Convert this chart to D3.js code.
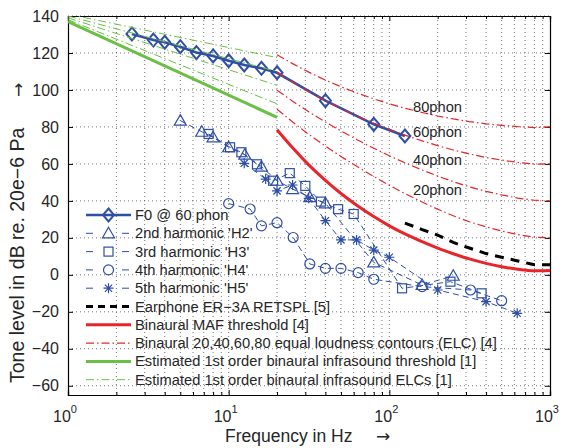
<!DOCTYPE html>
<html>
<head>
<meta charset="utf-8">
<script src="https://cdn.jsdelivr.net/npm/d3@7"></script>
<style>
  body { margin: 0; background: #fff; }
  svg { display: block; font-family: "Liberation Sans", Arial, sans-serif; }
</style>
</head>
<body>
<svg id="chart" width="563" height="448"></svg>
<script>
// fundamental frequencies (Hz) and the F0 level at 60 phon
var f0Freq = [2.5, 3.4, 4, 5, 6.3, 8, 10, 12.5, 16, 20, 40, 80, 125];
var f0Level = [130.3, 127.0, 125.8, 123.4, 120.2, 118.4, 115.8, 113.5, 111.7, 109.3, 94.2, 81.4, 75.1];

// harmonic levels (dB), one per fundamental
var h2Level = [83.4, 77.4, 74.4, 69.0, 65.0, 58.5, 50.9, 46.4, 42.0, 38.7, 6.7, -5.5, -0.5];
var h3Level = [76.2, 69.0, 66.3, 59.8, 50.9, 55.0, 48.1, 39.6, 35.5, 32.9, -7.3, -3.7, -10.0];
var h4Level = [38.5, 35.6, 26.5, 28.2, 20.2, 5.9, 3.5, 3.5, 1.2, -2.4, -6.4, -8.2, -14.0];
var h5Level = [60.3, 51.8, 45.4, 48.6, 41.4, 29.3, 18.9, 18.9, 13.4, 9.5, -8.2, -14.5, -20.8];

// earphone RETSPL
var earFreq = [125, 160, 200, 250, 315, 400, 500, 630, 750, 800, 1000];
var earLevel = [28.0, 24.5, 21.5, 17.5, 14.5, 11.5, 9.5, 7.5, 6.0, 5.5, 5.5];

// binaural MAF threshold and equal loudness contours
var isoFreq = [20, 25, 31.5, 40, 50, 63, 80, 100, 125, 160, 200, 250, 315, 400, 500, 630, 800, 1000];
var mafLevel = [78.5, 68.7, 59.5, 51.1, 44.0, 37.5, 31.5, 26.5, 22.1, 17.9, 14.4, 11.4, 8.6, 6.2, 4.4, 3.0, 2.2, 2.4];
var elc20 = [89.58, 82.65, 75.98, 69.62, 64.02, 58.55, 53.19, 48.38, 43.94, 39.37, 35.51, 31.93, 28.70, 25.93, 23.70, 21.75, 20.40, 20.00];
var elc40 = [99.85, 93.94, 88.17, 82.63, 77.78, 73.08, 68.48, 64.37, 60.59, 56.70, 53.41, 50.40, 47.58, 45.17, 43.24, 41.53, 40.34, 40.01];
var elc60 = [109.51, 104.23, 99.08, 94.18, 89.96, 85.94, 82.05, 78.65, 75.56, 72.47, 69.86, 67.53, 65.39, 63.45, 62.05, 60.81, 59.89, 60.01];
var elc80 = [118.99, 114.23, 109.65, 105.34, 101.72, 98.36, 95.17, 92.48, 90.09, 87.82, 85.92, 84.31, 82.89, 81.68, 80.86, 80.17, 79.67, 80.01];
var phonLabels = ["80phon", "60phon", "40phon", "20phon"];
var phonLabelLevel = [91, 77.5, 62, 46];

// estimated infrasound threshold and ELCs (1 Hz .. 20 Hz)
var infraFreq = [1, 20];
var infraThreshold = [137, 85.2];
var infraElc = [[141, 117.5], [140, 110], [139, 102.5], [138, 92.5]];

var yTicks = [-60, -40, -20, 0, 20, 40, 60, 80, 100, 120, 140];
var xDecades = [1, 10, 100, 1000];

var legendLabels = ["F0 @ 60 phon", "2nd harmonic 'H2'", "3rd harmonic 'H3'", "4th harmonic 'H4'",
  "5th harmonic 'H5'", "Earphone ER\u22123A RETSPL [5]", "Binaural MAF threshold [4]",
  "Binaural 20,40,60,80 equal loudness contours (ELC) [4]",
  "Estimated 1st order binaural infrasound threshold [1]",
  "Estimated 1st order binaural infrasound ELCs [1]"];

var blue = "#2f4ea6", red = "#e8252b", green = "#6abf45";

var svg = d3.select("#chart");
var padL = 68, padR = 550, padT = 16, padB = 395;

var x = d3.scaleLog().domain([1, 1000]).range([padL, padR]);
var y = d3.scaleLinear().domain([-65, 140]).range([padB, padT]);

svg.append("clipPath").attr("id", "clip")
  .append("rect").attr("x", padL).attr("y", padT).attr("width", padR - padL).attr("height", padB - padT);

// minor x positions
var xMinor = [];
[1, 10, 100].forEach(function(d) {
  for (var k = 2; k <= 9; k++) xMinor.push(d * k);
});

// grid
var grid = svg.append("g").attr("stroke", "#555").attr("stroke-width", 0.8).attr("stroke-dasharray", "1,3");
grid.selectAll("line.gx").data(xMinor.concat([10, 100])).enter().append("line")
  .attr("x1", function(d) { return x(d); }).attr("x2", function(d) { return x(d); })
  .attr("y1", padT).attr("y2", padB);
grid.selectAll("line.gy").data(yTicks).enter().append("line")
  .attr("y1", function(d) { return y(d); }).attr("y2", function(d) { return y(d); })
  .attr("x1", padL).attr("x2", padR);

// axes with inward ticks
svg.append("g").attr("transform", "translate(" + padL + ",0)")
  .call(d3.axisLeft(y).tickValues(yTicks).tickSize(-5).tickPadding(9)
    .tickFormat(function(d) { return d < 0 ? "\u2212" + Math.abs(d) : d; }))
  .call(function(g) {
    g.selectAll("text").attr("font-size", 16).attr("fill", "#262626");
  });
svg.append("g").attr("transform", "translate(" + padR + ",0)")
  .call(d3.axisRight(y).tickValues(yTicks).tickSize(-5).tickFormat(""));
svg.append("g").attr("transform", "translate(0," + padB + ")")
  .call(d3.axisBottom(x).tickValues(xDecades).tickSize(-5).tickFormat(""));
svg.append("g").attr("transform", "translate(0," + padB + ")")
  .call(d3.axisBottom(x).tickValues(xMinor).tickSize(-3).tickFormat(""));
svg.append("g").attr("transform", "translate(0," + padT + ")")
  .call(d3.axisTop(x).tickValues(xDecades).tickSize(-5).tickFormat(""));
svg.append("g").attr("transform", "translate(0," + padT + ")")
  .call(d3.axisTop(x).tickValues(xMinor).tickSize(-3).tickFormat(""));
svg.selectAll(".domain").attr("stroke", "#000").attr("stroke-width", 1.2);
svg.selectAll(".tick line").attr("stroke", "#000");
svg.selectAll("g[font-family]").attr("font-family", null);

// x tick labels 10^k
var xl = svg.append("g").attr("font-size", 16).attr("fill", "#262626");
xDecades.forEach(function(d, i) {
  var t = xl.append("text").attr("x", x(d) - 3).attr("y", 422).attr("text-anchor", "middle");
  t.append("tspan").text("10");
  t.append("tspan").attr("dy", -9).attr("font-size", 11).text(i);
});

// axis titles
svg.append("text").attr("x", 225).attr("y", 442).attr("font-size", 17.5).attr("fill", "#262626")
  .text("Frequency in Hz");
svg.append("text").attr("x", 376).attr("y", 442).attr("font-size", 17).attr("fill", "#262626")
  .attr("font-family", "DejaVu Sans").text("\u2192");
svg.append("text").attr("transform", "translate(24,383) rotate(-90)").attr("text-anchor", "start")
  .attr("font-size", 19.5).attr("fill", "#262626").text("Tone level in dB re. 20e\u22126 Pa");
svg.append("text").attr("transform", "translate(24,97) rotate(-90)").attr("text-anchor", "start")
  .attr("font-size", 17).attr("fill", "#262626").attr("font-family", "DejaVu Sans").text("\u2192");

// markers
function marker(g, type, col) {
  if (type === "diamond") {
    g.append("path").attr("d", "M0,-6.5L5.5,0L0,6.5L-5.5,0Z").attr("fill", "none").attr("stroke", col).attr("stroke-width", 2);
  } else if (type === "triangle") {
    g.append("path").attr("d", "M0,-6L6,4.5L-6,4.5Z").attr("fill", "none").attr("stroke", col).attr("stroke-width", 1.2);
  } else if (type === "square") {
    g.append("rect").attr("x", -4.5).attr("y", -4.5).attr("width", 9).attr("height", 9)
      .attr("fill", "none").attr("stroke", col).attr("stroke-width", 1.2);
  } else if (type === "circle") {
    g.append("circle").attr("r", 5).attr("fill", "none").attr("stroke", col).attr("stroke-width", 1.2);
  } else if (type === "star") {
    g.append("path").attr("d", "M-5,0L5,0M0,-5L0,5M-3.6,-3.6L3.6,3.6M-3.6,3.6L3.6,-3.6")
      .attr("stroke", col).attr("stroke-width", 1.2);
  }
}

var plot = svg.append("g").attr("clip-path", "url(#clip)");
var line = d3.line().x(function(d) { return x(d[0]); }).y(function(d) { return y(d[1]); });

function series(freqs, levels) {
  return freqs.map(function(f, i) { return [f, levels[i]]; });
}

// F0
var f0Pts = series(f0Freq, f0Level);
plot.append("path").datum(f0Pts).attr("d", line).attr("fill", "none").attr("stroke", blue).attr("stroke-width", 2.6);
f0Pts.forEach(function(p) {
  marker(plot.append("g").attr("transform", "translate(" + x(p[0]) + "," + y(p[1]) + ")"), "diamond", blue);
});

// harmonics (frequency = n * F0)
var harm = [[2, h2Level, "triangle"], [3, h3Level, "square"], [4, h4Level, "circle"], [5, h5Level, "star"]];
harm.forEach(function(h) {
  var pts = series(f0Freq.map(function(f) { return f * h[0]; }), h[1]);
  plot.append("path").datum(pts).attr("d", line).attr("fill", "none").attr("stroke", blue)
    .attr("stroke-width", 1).attr("stroke-dasharray", "6,4");
  pts.forEach(function(p) {
    marker(plot.append("g").attr("transform", "translate(" + x(p[0]) + "," + y(p[1]) + ")"), h[2], blue);
  });
});

// earphone
plot.append("path").datum(series(earFreq, earLevel)).attr("d", line).attr("fill", "none")
  .attr("stroke", "#000").attr("stroke-width", 3).attr("stroke-dasharray", "9,7");

// MAF
plot.append("path").datum(series(isoFreq, mafLevel)).attr("d", d3.line().curve(d3.curveMonotoneX)
  .x(function(d) { return x(d[0]); }).y(function(d) { return y(d[1]); }))
  .attr("fill", "none").attr("stroke", red).attr("stroke-width", 3);

// ELCs
[elc20, elc40, elc60, elc80].forEach(function(e) {
  plot.append("path").datum(series(isoFreq, e)).attr("d", line).attr("fill", "none")
    .attr("stroke", red).attr("stroke-width", 1.2).attr("stroke-dasharray", "8,3,1.5,3");
});
phonLabels.forEach(function(t, i) {
  svg.append("text").attr("x", 413).attr("y", y(phonLabelLevel[i]) + 5).attr("font-size", 14.7)
    .attr("fill", "#262626").text(t);
});

// infrasound
plot.append("path").datum(series(infraFreq, infraThreshold)).attr("d", line).attr("fill", "none")
  .attr("stroke", green).attr("stroke-width", 3);
infraElc.forEach(function(e) {
  plot.append("path").datum(series(infraFreq, e)).attr("d", line).attr("fill", "none")
    .attr("stroke", green).attr("stroke-width", 1).attr("stroke-dasharray", "8,3,1.5,3");
});

// legend
var leg = svg.append("g").attr("font-size", 14.7).attr("fill", "#262626");
var legStyle = [
  {col: blue, w: 2.6, dash: null, m: "diamond"},
  {col: blue, w: 1, dash: "7,29", m: "triangle"},
  {col: blue, w: 1, dash: "7,29", m: "square"},
  {col: blue, w: 1, dash: "7,29", m: "circle"},
  {col: blue, w: 1, dash: "7,29", m: "star"},
  {col: "#000", w: 3, dash: "7,5", m: null},
  {col: red, w: 3, dash: null, m: null},
  {col: red, w: 1.2, dash: "8,3,1.5,3", m: null},
  {col: green, w: 3, dash: null, m: null},
  {col: green, w: 1, dash: "8,3,1.5,3", m: null}
];
legendLabels.forEach(function(lab, i) {
  var yy = 215 + i * 18.3;
  var s = legStyle[i];
  leg.append("line").attr("x1", 86).attr("x2", 131).attr("y1", yy).attr("y2", yy)
    .attr("stroke", s.col).attr("stroke-width", s.w).attr("stroke-dasharray", s.dash);
  if (s.m) marker(leg.append("g").attr("transform", "translate(108.5," + yy + ")"), s.m, s.col);
  leg.append("text").attr("x", 135).attr("y", yy + 5).text(lab);
});
</script>
</body>
</html>
